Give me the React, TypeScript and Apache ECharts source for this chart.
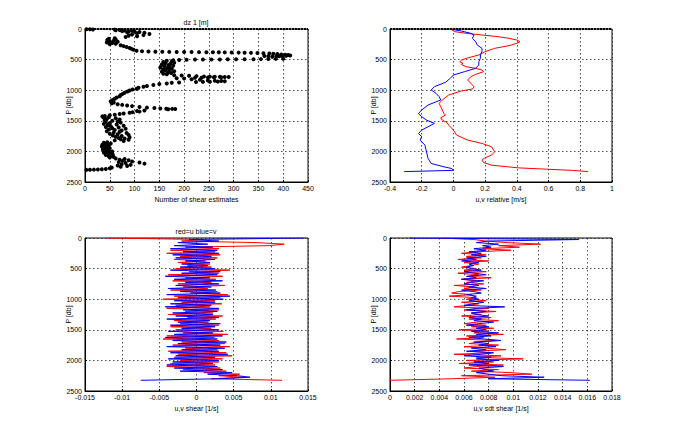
import React, { useEffect, useRef } from "react";
import * as echarts from "echarts";

// ---- Panel 1: number of shear estimates vs pressure ----
const tlDepth = [
  5, 5, 8, 10, 15, 20, 25, 30, 35, 40, 45, 50, 55, 60, 70, 80, 90, 100, 110, 120, 130,
  150, 160, 170, 180, 190, 200, 210, 220, 230, 240, 250, 265, 280, 295, 310, 325, 340, 355,
  365, 368, 370, 372, 374, 375, 376, 377, 378, 379, 380, 381, 382, 384, 386, 388, 390, 393, 396,
  400, 404, 410, 416, 420, 426, 432, 436, 440, 444, 448, 452, 446, 440,
  485, 488, 490, 492, 493, 494, 495, 496, 497, 498, 499, 500, 502, 505, 510,
  520, 530, 540, 550, 560, 570, 580, 590, 600, 610, 620, 630, 640, 650, 660, 670, 680, 690,
  700, 710, 720, 730, 740,
  755, 760, 765, 770, 775, 778, 780, 782, 784, 786, 788, 790, 792, 795, 798,
  805, 810, 820, 830, 840, 845, 850, 855, 860, 862, 864, 866,
  875, 880, 890, 900, 915, 930, 945, 960, 975, 990, 1005, 1020, 1040, 1060, 1080, 1100,
  1120, 1140, 1160, 1180, 1200, 1215, 1230, 1240, 1250, 1260,
  1275, 1285, 1292, 1298, 1302, 1305, 1308, 1312,
  1330, 1340, 1350, 1360, 1370, 1380, 1390, 1400, 1410, 1420, 1428,
  1440, 1450, 1460, 1470, 1480, 1490, 1500, 1510, 1520, 1530, 1540, 1550, 1560, 1570, 1580,
  1590, 1600, 1610, 1620, 1630, 1640, 1650, 1660, 1670, 1680, 1690, 1700, 1710, 1720, 1730,
  1740, 1750, 1760, 1770, 1780, 1790, 1800, 1810, 1820, 1830,
  1850, 1860, 1870, 1880, 1890, 1900, 1910, 1920, 1930, 1940, 1950, 1960, 1970, 1980, 1990,
  2000, 2010, 2020, 2030, 2040, 2050, 2060, 2070, 2080, 2090, 2100,
  2115, 2125, 2135, 2145, 2155, 2165, 2175, 2180, 2190, 2200, 2210, 2220, 2230, 2240, 2250,
  2265, 2275, 2288, 2292, 2295, 2298, 2300, 2302,
];
const tlCount = [
  3, 10, 16, 60, 70, 62, 80, 95, 75, 100, 88, 110, 85, 120, 105, 130, 95, 118, 88, 105, 82,
  60, 48, 62, 45, 58, 50, 66, 44, 55, 62, 50, 72, 78, 84, 90, 94, 98, 104,
  115, 128, 142, 156, 170, 185, 200, 215, 230, 245, 258, 270, 282, 296, 310, 322, 335, 348, 360,
  372, 380, 388, 396, 404, 410, 414, 406, 398, 392, 386, 378, 370, 362,
  400, 385, 370, 355, 340, 322, 305, 288, 272, 255, 238, 222, 205, 190, 178,
  165, 175, 158, 180, 162, 172, 155, 168, 178, 160, 170, 152, 166, 175, 158, 170, 162, 180,
  155, 168, 174, 158, 165,
  180, 195, 210, 225, 240, 252, 262, 272, 282, 290, 275, 260, 248, 235, 222,
  185, 200, 215, 232, 248, 262, 275, 282, 268, 252, 238, 224,
  190, 175, 165, 150, 138, 125, 118, 108, 104, 96, 90, 86, 80, 76, 72, 70,
  64, 60, 56, 52, 58, 54, 66, 75, 85, 95,
  110, 125, 140, 152, 164, 176, 182, 168,
  120, 105, 110, 96, 90, 78, 70, 60, 50, 40, 35,
  48, 38, 62, 44, 70, 40, 55, 66, 42, 72, 50, 38, 64, 46, 78,
  52, 42, 68, 55, 82, 48, 60, 74, 44, 70, 58, 84, 50, 66, 88,
  56, 74, 62, 90, 68, 80, 72, 88, 60, 78,
  45, 38, 52, 42, 35, 48, 40, 34, 46, 38, 50, 42, 36, 48, 40,
  55, 44, 38, 50, 46, 56, 42, 52, 48, 58, 50,
  62, 80, 70, 88, 76, 95, 68, 110, 82, 120, 74, 92, 66, 85, 72,
  54, 50, 42, 34, 26, 18, 10, 3,
];

// ---- Panel 2: u,v relative velocity ----
const uRelDepth = [
  0, 44, 70, 98, 125, 152, 180, 207, 234, 272, 316, 370, 425, 480, 510, 535, 560, 578, 616, 643,
  670, 697, 741, 779, 833, 888, 942, 980, 1013, 1078, 1160, 1215, 1270, 1324, 1380, 1406, 1450,
  1488, 1530, 1570, 1652, 1734, 1815, 1870, 1924, 2006, 2060, 2104, 2143, 2181, 2225, 2269,
  2310, 2330,
];
const uRel = [
  -0.02, 0.01, 0.08, 0.18, 0.28, 0.35, 0.4, 0.42, 0.4, 0.35, 0.26, 0.2, 0.16, 0.08, 0.05, 0.04,
  0.06, 0.05, 0.08, 0.14, 0.18, 0.19, 0.14, 0.11, 0.09, 0.11, 0.13, 0.12, 0.05, -0.03, -0.07,
  -0.09, -0.08, -0.07, -0.06, -0.05, -0.08, -0.07, -0.04, -0.03, 0.0, 0.02, 0.09, 0.18, 0.24,
  0.26, 0.24, 0.2, 0.18, 0.19, 0.24, 0.41, 0.75, 0.85,
];
const vRelDepth = [
  0, 33, 71, 98, 152, 207, 261, 316, 370, 425, 480, 535, 589, 643, 697, 752, 806, 871, 942,
  997, 1051, 1105, 1160, 1242, 1324, 1378, 1433, 1488, 1542, 1597, 1652, 1706, 1761, 1815,
  1897, 2006, 2115, 2198, 2252, 2280, 2310, 2330,
];
const vRel = [
  -0.02, 0.05, 0.11, 0.13, 0.12, 0.14, 0.15, 0.18, 0.18, 0.17, 0.17, 0.16, 0.16, 0.14, 0.07,
  0.0, -0.02, -0.05, -0.12, -0.14, -0.11, -0.09, -0.08, -0.16, -0.2, -0.22, -0.2, -0.17, -0.12,
  -0.16, -0.2, -0.22, -0.2, -0.21, -0.18, -0.17, -0.16, -0.14, -0.06, -0.01, 0.0, -0.31,
];

// ---- Panels 3 and 4: shear and std shear (depth grid shared) ----
const shearDepth = [
  0, 25, 50, 75, 100, 125, 150, 175, 200, 225, 250, 275, 300, 325, 350, 375, 400, 425, 450, 475,
  500, 525, 550, 575, 600, 625, 650, 675, 700, 725, 750, 775, 800, 825, 850, 875, 900, 925, 950,
  975, 1000, 1025, 1050, 1075, 1100, 1125, 1150, 1175, 1200, 1225, 1250, 1275, 1300, 1325, 1350,
  1375, 1400, 1425, 1450, 1475, 1500, 1525, 1550, 1575, 1600, 1625, 1650, 1675, 1700, 1725, 1750,
  1775, 1800, 1825, 1850, 1875, 1900, 1925, 1950, 1975, 2000, 2025, 2050, 2075, 2100, 2125, 2150,
  2175, 2200, 2225, 2250, 2275, 2300, 2325,
];
const shearU = [
  -0.012, 0.001, -0.002, 0.008, 0.0118, 0.0098, -0.0015, 0.003, -0.0035, 0.0025,
  -0.004, 0.0032, -0.0022, 0.0028, -0.003, 0.0012, -0.0025, 0.0018, -0.0012, 0.002,
  -0.0028, 0.0045, -0.001, 0.003, -0.0038, 0.0035, -0.0015, 0.0026, -0.0032, 0.002,
  -0.0025, 0.0038, -0.0018, 0.0015, -0.0035, 0.0028, -0.0008, 0.0042, -0.003, 0.0032,
  -0.0045, 0.0025, -0.002, 0.0034, -0.0028, 0.0018, -0.004, 0.003, -0.0015, 0.0022,
  -0.0038, 0.0035, -0.0012, 0.0026, -0.003, 0.0016, -0.0022, 0.003, -0.0035, 0.002,
  -0.0028, 0.0036, -0.0018, 0.0042, -0.004, 0.0024, -0.0045, 0.003, -0.002, 0.0038,
  -0.0032, 0.0045, -0.0015, 0.0028, -0.0038, 0.004, -0.0025, 0.0048, -0.003, 0.0035,
  -0.0022, 0.003, -0.0035, 0.0025, -0.004, 0.0032, -0.0018, 0.004, 0.001, 0.0058,
  0.003, 0.0062, 0.002, 0.0115,
];
const shearV = [
  0.0145, -0.001, 0.003, -0.0025, 0.0015, -0.003, 0.0022, -0.0035, 0.0028, -0.0018,
  0.003, -0.0032, 0.002, -0.0028, 0.0025, -0.0015, 0.0018, -0.002, 0.0015, -0.0022,
  0.0025, -0.0035, 0.0032, -0.002, 0.0028, -0.0042, 0.0018, -0.003, 0.0035, -0.0015,
  0.003, -0.0028, 0.002, -0.0038, 0.0026, -0.0022, 0.0032, -0.004, 0.0045, -0.0025,
  0.0036, -0.003, 0.0025, -0.0035, 0.002, -0.0042, 0.003, -0.0018, 0.0028, -0.0032,
  0.0022, -0.0028, 0.003, -0.004, 0.0018, -0.0025, 0.0032, -0.0035, 0.0025, -0.002,
  0.003, -0.0038, 0.0022, -0.003, 0.0035, -0.0042, 0.0028, -0.0032, 0.004, -0.0025,
  0.0032, -0.004, 0.0038, -0.002, 0.003, -0.0035, 0.0042, -0.0028, 0.0025, -0.0038,
  0.003, -0.0032, 0.0022, -0.004, 0.0028, -0.003, 0.0035, -0.0022, 0.0048, 0.0015,
  0.0055, 0.0072, 0.003, -0.0075,
];
const stdU = [
  0.0042, 0.0068, 0.0078, 0.0095, 0.0122, 0.0088, 0.0105, 0.0075, 0.0098, 0.007,
  0.0058, 0.0078, 0.0062, 0.0074, 0.0055, 0.008, 0.006, 0.0072, 0.0066, 0.0058,
  0.007, 0.006, 0.0078, 0.0055, 0.0072, 0.0064, 0.0082, 0.0058, 0.007, 0.0062,
  0.0076, 0.0052, 0.0068, 0.006, 0.0074, 0.0056, 0.005, 0.0066, 0.0048, 0.007,
  0.0062, 0.0078, 0.0058, 0.0072, 0.0064, 0.0052, 0.008, 0.006, 0.0086, 0.0066,
  0.0074, 0.0058, 0.0082, 0.0064, 0.0088, 0.007, 0.006, 0.0078, 0.0066, 0.0084,
  0.0056, 0.008, 0.0068, 0.0092, 0.0062, 0.0076, 0.0054, 0.0086, 0.0072, 0.0064,
  0.0088, 0.006, 0.0078, 0.0094, 0.0066, 0.0082, 0.0052, 0.009, 0.007, 0.0108,
  0.0062, 0.0084, 0.0056, 0.0092, 0.007, 0.006, 0.0088, 0.0066, 0.0098, 0.0115,
  0.0058, 0.0085, 0.005, 0.0,
];
const stdV = [
  0.0016, 0.0153, 0.008, 0.007, 0.0088, 0.0075, 0.0082, 0.0068, 0.0078, 0.0064,
  0.0074, 0.0066, 0.0078, 0.0062, 0.007, 0.0058, 0.0072, 0.0064, 0.0068, 0.0062,
  0.0066, 0.0074, 0.006, 0.0068, 0.0078, 0.0062, 0.007, 0.0058, 0.0076, 0.0066,
  0.006, 0.0072, 0.0064, 0.0078, 0.0058, 0.0068, 0.0074, 0.0062, 0.007, 0.0066,
  0.0072, 0.0064, 0.0076, 0.0068, 0.006, 0.0093, 0.007, 0.0062, 0.0078, 0.0066,
  0.007, 0.008, 0.0064, 0.0074, 0.0068, 0.0084, 0.0072, 0.0062, 0.008, 0.007,
  0.0078, 0.0066, 0.0088, 0.007, 0.0082, 0.0064, 0.0076, 0.009, 0.0068, 0.008,
  0.0072, 0.0086, 0.0066, 0.0078, 0.0062, 0.0084, 0.0074, 0.006, 0.0082, 0.007,
  0.0088, 0.0068, 0.008, 0.0064, 0.0092, 0.0072, 0.0078, 0.0084, 0.007, 0.008,
  0.009, 0.0125, 0.008, 0.0162,
];

const xTicks = [
  { min: 0, max: 450, interval: 50, name: "Number of shear estimates" },
  { min: -0.4, max: 1, interval: 0.2, name: "u,v relative [m/s]" },
  { min: -0.015, max: 0.015, interval: 0.005, name: "u,v shear [1/s]" },
  { min: 0, max: 0.018, interval: 0.002, name: "u,v sdt shear [1/s]" },
];
const panelTitles = ["dz 1 [m]", "", "red=u blue=v", ""];

const FONT = "'Liberation Sans', Arial, sans-serif";
const RED = "#ff0000";
const BLUE = "#0000ff";

function pairs(xs: number[], ys: number[]) {
  return xs.map((x, i) => [x, ys[i]]);
}

function fmt(v: number) {
  return String(Number(v.toPrecision(10)));
}

export default function App() {
  const ref = useRef<HTMLDivElement>(null);
  useEffect(() => {
    if (!ref.current) return;
    const chart = echarts.init(ref.current, undefined, { renderer: "svg" });
    const grids = [
      { left: 85, top: 29, width: 223, height: 153 },
      { left: 390, top: 29, width: 222, height: 153 },
      { left: 85, top: 238, width: 223, height: 153 },
      { left: 390, top: 238, width: 222, height: 153 },
    ].map((g) => ({ ...g, show: true, borderColor: "#000", borderWidth: 1, backgroundColor: "#fff" }));

    const split = { show: true, lineStyle: { color: "#222", type: [1.5, 2.5], width: 0.8 } };
    const label = { fontSize: 7, color: "#000", fontFamily: FONT, margin: 3, formatter: fmt };

    const xAxis = xTicks.map((t, i) => ({
      type: "value",
      gridIndex: i,
      min: t.min,
      max: t.max,
      interval: t.interval,
      name: t.name,
      nameLocation: "middle",
      nameGap: 14,
      nameMoveOverlap: false,
      nameTextStyle: { fontSize: 7, color: "#000", fontFamily: FONT },
      axisLine: { show: true, onZero: false, lineStyle: { color: "#000", width: 1 } },
      axisTick: { show: true, inside: true, length: 2, lineStyle: { color: "#000" } },
      axisLabel: { ...label, showMinLabel: true, showMaxLabel: true },
      splitLine: split,
    }));
    const yAxis = [0, 1, 2, 3].map((i) => ({
      type: "value",
      gridIndex: i,
      inverse: true,
      min: 0,
      max: 2500,
      interval: 500,
      name: "P [db]",
      nameLocation: "middle",
      nameGap: 13,
      nameMoveOverlap: false,
      nameTextStyle: { fontSize: 7, color: "#000", fontFamily: FONT },
      axisLine: { show: true, onZero: false, lineStyle: { color: "#000", width: 1 } },
      axisTick: { show: true, inside: true, length: 2, lineStyle: { color: "#000" } },
      axisLabel: { ...label, showMinLabel: true, showMaxLabel: true },
      splitLine: split,
    }));

    const topLine = {
      silent: true,
      symbol: "none",
      label: { show: false },
      lineStyle: { color: "#000", type: [2, 1], width: 2 },
      data: [{ yAxis: 0 }],
    };

    const line = (xi: number, data: number[][], color: string, extra: any = {}) => ({
      type: "line",
      xAxisIndex: xi,
      yAxisIndex: xi,
      data,
      showSymbol: false,
      symbol: "none",
      lineStyle: { color, width: 1 },
      itemStyle: { color },
      ...extra,
    });

    const titleStyle = (text: string) => ({
      text,
      fill: "#000",
      font: `7px ${FONT}`,
      textAlign: "center",
      textVerticalAlign: "middle",
    });

    chart.setOption({
      animation: false,
      backgroundColor: "#fff",
      grid: grids,
      xAxis,
      yAxis,
      graphic: [
        { type: "text", x: 196, y: 22, style: titleStyle(panelTitles[0]) },
        { type: "text", x: 196, y: 231, style: titleStyle(panelTitles[2]) },
      ],
      series: [
        {
          type: "scatter",
          xAxisIndex: 0,
          yAxisIndex: 0,
          data: pairs(tlCount, tlDepth),
          symbol: "circle",
          symbolSize: 4,
          itemStyle: { color: "#000", opacity: 1 },
          markLine: topLine,
        },
        line(1, pairs(uRel, uRelDepth), RED, { markLine: topLine }),
        line(1, pairs(vRel, vRelDepth), BLUE),
        line(2, pairs(shearU, shearDepth), RED),
        line(2, pairs(shearV, shearDepth), BLUE),
        line(3, pairs(stdU, shearDepth), RED),
        line(3, pairs(stdV, shearDepth), BLUE),
      ],
    });
    return () => chart.dispose();
  }, []);
  return (
    <div
      ref={ref}
      style={{ position: "absolute", left: 0, top: 0, width: 673, height: 426, background: "#fff" }}
    />
  );
}
